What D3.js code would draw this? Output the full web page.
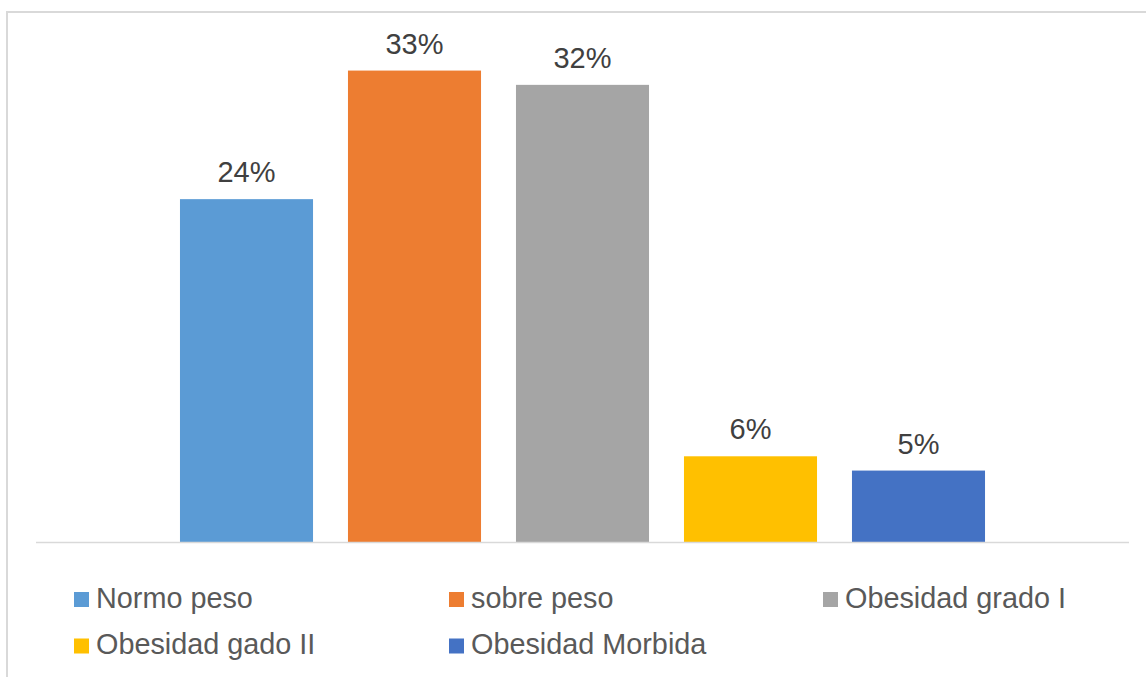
<!DOCTYPE html>
<html>
<head>
<meta charset="utf-8">
<script src="https://cdn.jsdelivr.net/npm/d3@7"></script>
<style>
html,body{margin:0;padding:0;background:#fff;}
svg{display:block;}
</style>
</head>
<body>
<svg id="chart" width="1146" height="677"></svg>
<script>
const series = ["Normo peso", "sobre peso", "Obesidad grado I", "Obesidad gado II", "Obesidad Morbida"];
const values = [0.24, 0.33, 0.32, 0.06, 0.05];
const colors = ["#5B9BD5", "#ED7D31", "#A5A5A5", "#FFC000", "#4472C4"];

const svg = d3.select("#chart");
const font = "'Liberation Sans', Arial, sans-serif";

// chart border
svg.append("rect")
  .attr("x", 7).attr("y", 12)
  .attr("width", 1200).attr("height", 700)
  .attr("fill", "none").attr("stroke", "#d9d9d9").attr("stroke-width", 2);

const x = d3.scaleBand()
  .domain(series)
  .range([36, 1129])
  .paddingInner(0.208)
  .paddingOuter(0.857);

const y = d3.scaleLinear().domain([0, 0.35]).range([542, 42]);

const fmt = d3.format(".0%");

svg.append("g").selectAll("rect")
  .data(series)
  .join("rect")
  .attr("x", d => x(d))
  .attr("width", x.bandwidth())
  .attr("y", (d, i) => y(values[i]))
  .attr("height", (d, i) => y(0) - y(values[i]))
  .attr("fill", (d, i) => colors[i]);

svg.append("g").selectAll("text")
  .data(series)
  .join("text")
  .attr("x", d => x(d) + x.bandwidth() / 2)
  .attr("y", (d, i) => y(values[i]) - 17)
  .attr("text-anchor", "middle")
  .attr("font-family", font)
  .attr("font-size", 29)
  .attr("fill", "#404040")
  .text((d, i) => fmt(values[i]));

// axis line
const axis = d3.axisBottom(x).tickSize(0).tickFormat("");
const ag = svg.append("g").attr("transform", `translate(0,${y(0)})`).call(axis);
ag.select(".domain").attr("stroke", "#d9d9d9").attr("stroke-width", 1.5)
  .attr("d", "M36,0.5H1129");

// legend
const legCols = [74, 449, 823];
const legRows = [607.5, 654];
const lg = svg.append("g").selectAll("g")
  .data(series)
  .join("g")
  .attr("transform", (d, i) => `translate(${legCols[i % 3]},${legRows[Math.floor(i / 3)]})`);
lg.append("rect")
  .attr("x", 0).attr("y", -15.5)
  .attr("width", 15).attr("height", 15)
  .attr("fill", (d, i) => colors[i]);
lg.append("text")
  .attr("x", 22).attr("y", 0)
  .attr("font-family", font)
  .attr("font-size", 28.8)
  .attr("fill", "#595959")
  .text(d => d);
</script>
</body>
</html>
